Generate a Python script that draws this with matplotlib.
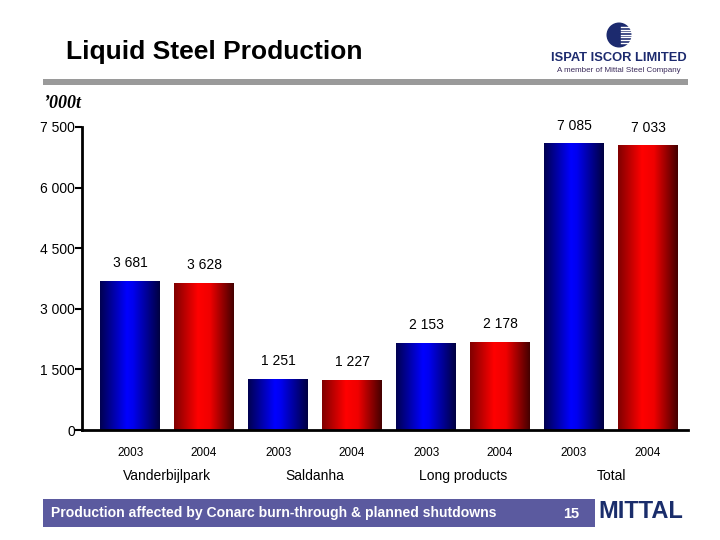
import numpy as np
import matplotlib.pyplot as plt
from matplotlib.colors import LinearSegmentedColormap
from matplotlib.patches import Rectangle, Circle

plt.rcParams['font.family'] = ['Liberation Sans', 'DejaVu Sans']

years = ['2003', '2004', '2003', '2004', '2003', '2004', '2003', '2004']
groups = ['Vanderbijlpark', 'Saldanha', 'Long products', 'Total']
values = [3681, 3628, 1251, 1227, 2153, 2178, 7085, 7033]
value_labels = ['3 681', '3 628', '1 251', '1 227', '2 153', '2 178', '7 085', '7 033']
yticks = [0, 1500, 3000, 4500, 6000, 7500]
ytick_labels = ['0', '1 500', '3 000', '4 500', '6 000', '7 500']

blue_cm = LinearSegmentedColormap.from_list(
    'b', [(0, '#000050'), (0.45, '#0000ff'), (0.55, '#0000f0'), (1, '#000040')])
red_cm = LinearSegmentedColormap.from_list(
    'r', [(0, '#800000'), (0.4, '#ff0000'), (0.6, '#f00000'), (1, '#440000')])

fig = plt.figure(figsize=(7.2, 5.4), dpi=100)

# page decorations in pixel coordinates
bg = fig.add_axes([0, 0, 1, 1])
bg.set_xlim(0, 720)
bg.set_ylim(540, 0)
bg.axis('off')
bg.add_patch(Rectangle((43, 79), 645, 6, color='#9a9a9a', lw=0))
bg.text(66, 52, 'Liquid Steel Production', fontsize=19, fontweight='bold',
        va='center', ha='left')
bg.text(43, 103, '\u2019000t', fontsize=13, fontweight='bold', style='italic',
        family='Liberation Serif', va='center', ha='left')

# logo
bg.add_patch(Circle((619, 35), 12.5, color='#1c2a6e', lw=0))
for yy in np.arange(27, 45, 2.6):
    bg.plot([621, 633], [yy, yy], color='white', lw=1.0)
bg.text(619, 58, 'ISPAT ISCOR LIMITED', fontsize=9.3, fontweight='bold',
        color='#1c2a6e', ha='center', va='center')
bg.text(619, 71, 'A member of Mittal Steel Company', fontsize=5.8,
        color='#3a2a5a', ha='center', va='center')

# bottom banner
bg.add_patch(Rectangle((43, 499), 552, 28, color='#5b5a9f', lw=0))
bg.text(51, 513, 'Production affected by Conarc burn-through & planned shutdowns',
        fontsize=10.1, fontweight='bold', color='white', ha='left', va='center')
bg.text(571, 514, '15', fontsize=10.5, fontweight='bold', color='white',
        ha='center', va='center')
bg.text(641, 512, 'MITTAL', fontsize=17, fontweight='bold', color='#1a2d6b',
        ha='center', va='center')

# chart
ax = fig.add_axes([82 / 720, 1 - 430 / 540, (688 - 82) / 720, (430 - 127) / 540])
x = np.arange(len(values))
bars = ax.bar(x, values, width=0.8, facecolor='none', edgecolor='none')
grad = np.linspace(0, 1, 256).reshape(1, -1)
for i, b in enumerate(bars):
    cm = blue_cm if i % 2 == 0 else red_cm
    ax.imshow(grad, cmap=cm, aspect='auto', zorder=2,
              extent=(b.get_x(), b.get_x() + b.get_width(), 0, b.get_height()))
    ax.annotate(value_labels[i], (b.get_x() + b.get_width() / 2, b.get_height()),
                xytext=(0, 13), textcoords='offset points', ha='center',
                va='center', fontsize=10)

ax.set_xlim(-0.65, 7.54)
ax.set_ylim(0, 7500)
ax.set_yticks(yticks)
ax.set_yticklabels(ytick_labels, fontsize=10)
ax.set_xticks(x)
ax.set_xticklabels(years, fontsize=8.5)
ax.tick_params(axis='x', length=0, pad=12)
ax.tick_params(axis='y', direction='out', length=5, width=1.5, pad=0)
for s in ['top', 'right']:
    ax.spines[s].set_visible(False)
for s in ['left', 'bottom']:
    ax.spines[s].set_linewidth(2)

for g, name in enumerate(groups):
    ax.text(2 * g + 0.5, -0.151, name, transform=ax.get_xaxis_transform(),
            ha='center', va='center', fontsize=10)

fig.savefig('out.png', dpi=100)
